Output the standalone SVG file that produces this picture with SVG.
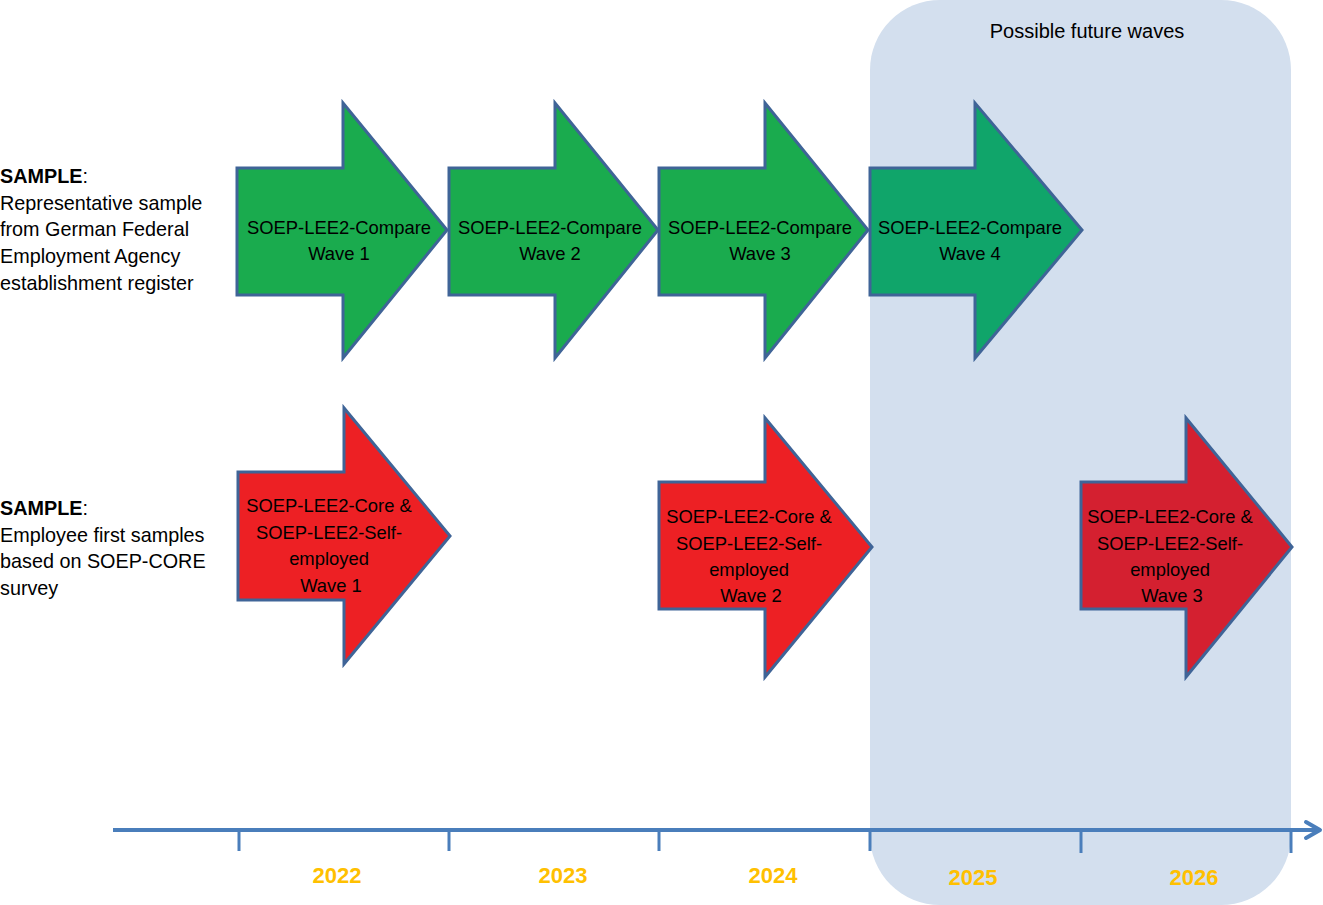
<svg xmlns="http://www.w3.org/2000/svg" width="1323" height="905" viewBox="0 0 1323 905">
<style>
.lbl{font-family:"Liberation Sans",Arial,sans-serif;font-size:19.8px;fill:#000}
.al{font-family:"Liberation Sans",Arial,sans-serif;font-size:18.4px;fill:#000;text-anchor:middle}
.ft{font-family:"Liberation Sans",Arial,sans-serif;font-size:20px;fill:#000;text-anchor:middle}
.yr{font-family:"Liberation Sans",Arial,sans-serif;font-size:22px;font-weight:bold;fill:#FFC000;text-anchor:middle}
.arr{stroke:#3F6497;stroke-width:3;stroke-linejoin:miter}
.g{fill:#1AAB4E}
.r{fill:#ED2024}
</style>
<rect width="1323" height="905" fill="#fff"/>
<g id="future">
<rect x="870" y="0" width="421" height="905" rx="70" ry="70" fill="#D3DFEE"/>
<text class="ft" x="1087" y="38">Possible future waves</text>
</g>
<g id="sample1">
<text class="lbl" x="0" y="183"><tspan font-weight="bold">SAMPLE</tspan>:</text>
<text class="lbl" x="0" y="210">Representative sample</text>
<text class="lbl" x="0" y="236">from German Federal</text>
<text class="lbl" x="0" y="263">Employment Agency</text>
<text class="lbl" x="0" y="290">establishment register</text>
</g>
<g id="sample2">
<text class="lbl" x="0" y="515"><tspan font-weight="bold">SAMPLE</tspan>:</text>
<text class="lbl" x="0" y="542">Employee first samples</text>
<text class="lbl" x="0" y="568">based on SOEP-CORE</text>
<text class="lbl" x="0" y="595">survey</text>
</g>
<g id="compare1">
<path class="arr g" d="M237,168 H343 V103 L447,230 L343,358 V295 H237 Z"/>
<text class="al" x="339" y="234">SOEP-LEE2-Compare</text>
<text class="al" x="339" y="260">Wave 1</text>
</g>
<g id="compare2">
<path class="arr g" d="M449,168 H555 V103 L658,230 L555,358 V295 H449 Z"/>
<text class="al" x="550" y="234">SOEP-LEE2-Compare</text>
<text class="al" x="550" y="260">Wave 2</text>
</g>
<g id="compare3">
<path class="arr g" d="M659,168 H765 V103 L868,230 L765,358 V295 H659 Z"/>
<text class="al" x="760" y="234">SOEP-LEE2-Compare</text>
<text class="al" x="760" y="260">Wave 3</text>
</g>
<g id="compare4">
<path class="arr" fill="#10A56A" d="M870,168 H975 V103 L1082,230 L975,358 V295 H870 Z"/>
<text class="al" x="970" y="234" fill="#1C2C3C">SOEP-LEE2-Compare</text>
<text class="al" x="970" y="260" fill="#1C2C3C">Wave 4</text>
</g>
<g id="core1">
<path class="arr r" d="M238,472 H344 V408 L450,536 L344,664 V600 H238 Z"/>
<text class="al" x="329" y="512">SOEP-LEE2-Core &amp;</text>
<text class="al" x="329" y="539">SOEP-LEE2-Self-</text>
<text class="al" x="329" y="565">employed</text>
<text class="al" x="331" y="592">Wave 1</text>
</g>
<g id="core2">
<path class="arr r" d="M659,482 H765 V418 L872,547 L765,677 V609 H659 Z"/>
<text class="al" x="749" y="523">SOEP-LEE2-Core &amp;</text>
<text class="al" x="749" y="550">SOEP-LEE2-Self-</text>
<text class="al" x="749" y="576">employed</text>
<text class="al" x="751" y="602">Wave 2</text>
</g>
<g id="core3">
<path class="arr" fill="#D42030" d="M1081,482 H1186 V418 L1292,547 L1186,677 V609 H1081 Z"/>
<text class="al" x="1170" y="523">SOEP-LEE2-Core &amp;</text>
<text class="al" x="1170" y="550">SOEP-LEE2-Self-</text>
<text class="al" x="1170" y="576">employed</text>
<text class="al" x="1172" y="602">Wave 3</text>
</g>
<g id="connectors" stroke="#4A7EBB" fill="none">
<line x1="113" y1="830" x2="1319" y2="830" stroke-width="4"/>
<polyline points="1306,822 1320,830 1306,838" stroke-width="4" stroke-linecap="round" stroke-linejoin="round"/>
<g stroke-width="3">
<line x1="239" y1="830" x2="239" y2="851"/>
<line x1="449" y1="830" x2="449" y2="851"/>
<line x1="659" y1="830" x2="659" y2="851"/>
<line x1="870" y1="830" x2="870" y2="851"/>
<line x1="1081" y1="830" x2="1081" y2="853"/>
<line x1="1291" y1="830" x2="1291" y2="853"/>
</g>
</g>
<g id="years">
<text class="yr" x="337" y="883">2022</text>
<text class="yr" x="563" y="883">2023</text>
<text class="yr" x="773" y="883">2024</text>
<text class="yr" x="973" y="885">2025</text>
<text class="yr" x="1194" y="885">2026</text>
</g>
</svg>
